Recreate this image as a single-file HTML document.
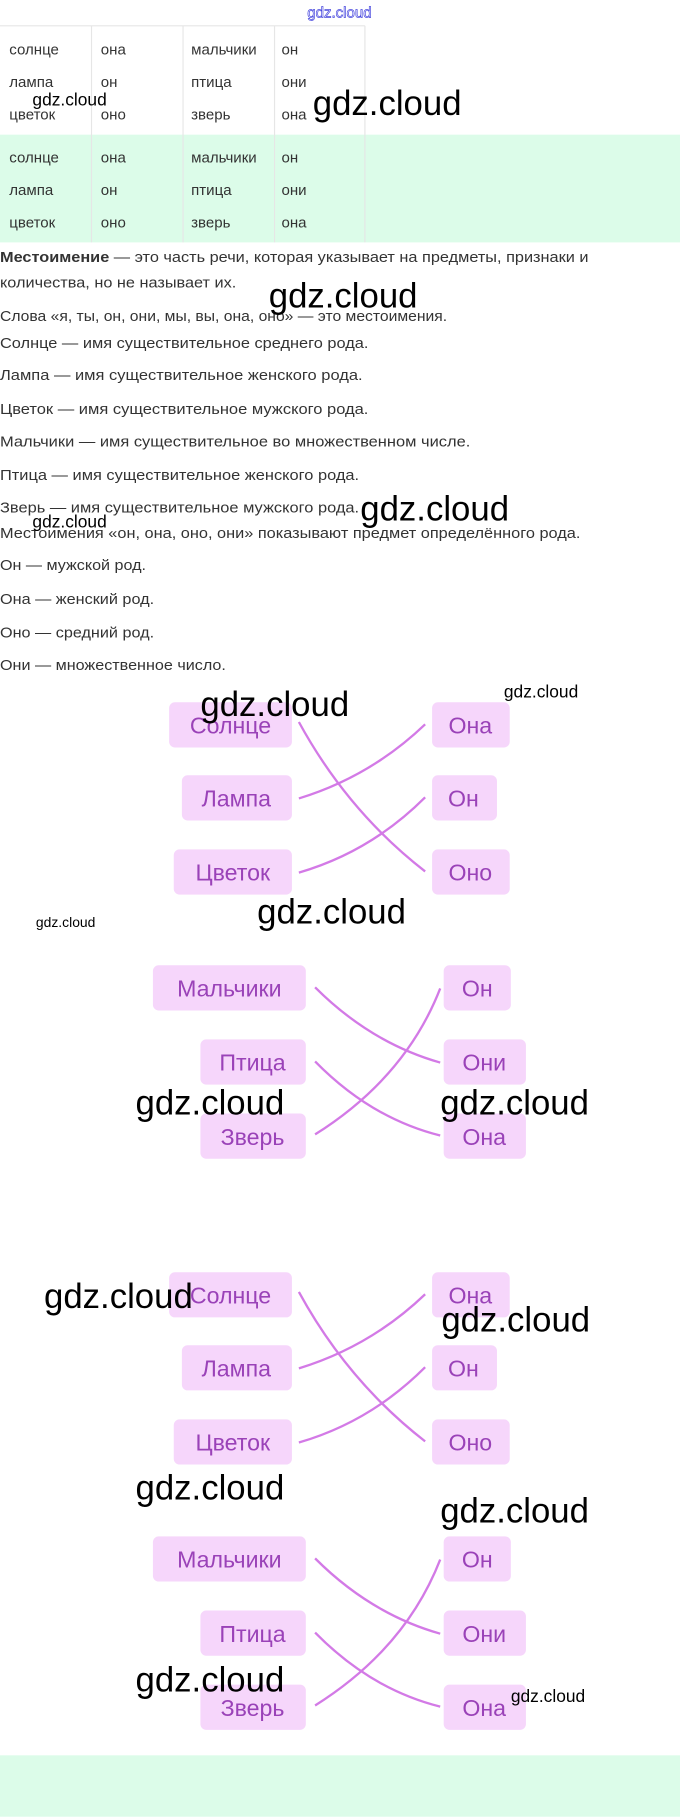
<!DOCTYPE html>
<html><head><meta charset="utf-8"><style>html,body{margin:0;padding:0;background:#fff}svg{display:block}</style></head>
<body>
<svg width="680" height="1817" viewBox="0 0 587 1568" xmlns="http://www.w3.org/2000/svg" font-family="Liberation Sans, sans-serif">
<rect x="0" y="0" width="587" height="1568" fill="#fff"/>
<text x="293" y="15" font-size="13" text-anchor="middle" fill="#fff" stroke="#4a4adf" stroke-width="0.6">gdz.cloud</text>
<!-- table -->
<rect x="0" y="116" width="587" height="93" fill="#dcfce9"/>
<g stroke="#e6e6e6" stroke-width="1">
<line x1="0" y1="22" x2="315" y2="22"/>
<line x1="79" y1="22" x2="79" y2="209"/><line x1="158" y1="22" x2="158" y2="209"/>
<line x1="237" y1="22" x2="237" y2="209"/><line x1="315" y1="22" x2="315" y2="209"/>
</g>
<g font-size="13" fill="#333">
<text x="8" y="47">солнце</text><text x="87" y="47">она</text><text x="165" y="47">мальчики</text><text x="243" y="47">он</text>
<text x="8" y="75">лампа</text><text x="87" y="75">он</text><text x="165" y="75">птица</text><text x="243" y="75">они</text>
<text x="8" y="103">цветок</text><text x="87" y="103">оно</text><text x="165" y="103">зверь</text><text x="243" y="103">она</text>
<text x="8" y="140">солнце</text><text x="87" y="140">она</text><text x="165" y="140">мальчики</text><text x="243" y="140">он</text>
<text x="8" y="168">лампа</text><text x="87" y="168">он</text><text x="165" y="168">птица</text><text x="243" y="168">они</text>
<text x="8" y="196">цветок</text><text x="87" y="196">оно</text><text x="165" y="196">зверь</text><text x="243" y="196">она</text>
</g>
<g font-size="13" fill="#333" lengthAdjust="spacingAndGlyphs">
<text x="0" y="226" textLength="508" lengthAdjust="spacingAndGlyphs"><tspan font-weight="bold">Местоимение</tspan> — это часть речи, которая указывает на предметы, признаки и</text>
<text x="0" y="248" textLength="204" lengthAdjust="spacingAndGlyphs">количества, но не называет их.</text>
<text x="0" y="277" textLength="386" lengthAdjust="spacingAndGlyphs">Слова «я, ты, он, они, мы, вы, она, оно» — это местоимения.</text>
<text x="0" y="300" textLength="318" lengthAdjust="spacingAndGlyphs">Солнце — имя существительное среднего рода.</text>
<text x="0" y="328" textLength="313" lengthAdjust="spacingAndGlyphs">Лампа — имя существительное женского рода.</text>
<text x="0" y="357" textLength="318" lengthAdjust="spacingAndGlyphs">Цветок — имя существительное мужского рода.</text>
<text x="0" y="385" textLength="406" lengthAdjust="spacingAndGlyphs">Мальчики — имя существительное во множественном числе.</text>
<text x="0" y="414" textLength="310" lengthAdjust="spacingAndGlyphs">Птица — имя существительное женского рода.</text>
<text x="0" y="442" textLength="310" lengthAdjust="spacingAndGlyphs">Зверь — имя существительное мужского рода.</text>
<text x="0" y="464" textLength="501" lengthAdjust="spacingAndGlyphs">Местоимения «он, она, оно, они» показывают предмет определённого рода.</text>
<text x="0" y="492" textLength="126" lengthAdjust="spacingAndGlyphs">Он — мужской род.</text>
<text x="0" y="521" textLength="133" lengthAdjust="spacingAndGlyphs">Она — женский род.</text>
<text x="0" y="550" textLength="133" lengthAdjust="spacingAndGlyphs">Оно — средний род.</text>
<text x="0" y="578" textLength="195" lengthAdjust="spacingAndGlyphs">Они — множественное число.</text>
</g>
<defs>
<g id="d1">
<g fill="#f6d6fb">
<rect x="146" y="606" width="106" height="39" rx="5"/><rect x="157" y="669" width="95" height="39" rx="5"/><rect x="150" y="733" width="102" height="39" rx="5"/>
<rect x="373" y="606" width="67" height="39" rx="5"/><rect x="373" y="669" width="56" height="39" rx="5"/><rect x="373" y="733" width="67" height="39" rx="5"/>
</g>
<g font-size="20" fill="#9a42b8" text-anchor="middle">
<text x="199" y="633">Солнце</text><text x="204" y="696">Лампа</text><text x="201" y="760">Цветок</text>
<text x="406" y="633">Она</text><text x="400" y="696">Он</text><text x="406" y="760">Оно</text>
</g>
<g fill="none" stroke="#d37ae6" stroke-width="2">
<path d="M258 623 Q300 700 367 752"/><path d="M258 689 Q320 670 367 625"/><path d="M258 753 Q320 735 367 688"/>
</g>
</g>
<g id="d2">
<g fill="#f6d6fb">
<rect x="132" y="833" width="132" height="39" rx="5"/><rect x="173" y="897" width="91" height="39" rx="5"/><rect x="173" y="961" width="91" height="39" rx="5"/>
<rect x="383" y="833" width="58" height="39" rx="5"/><rect x="383" y="897" width="71" height="39" rx="5"/><rect x="383" y="961" width="71" height="39" rx="5"/>
</g>
<g font-size="20" fill="#9a42b8" text-anchor="middle">
<text x="198" y="860">Мальчики</text><text x="218" y="924">Птица</text><text x="218" y="988">Зверь</text>
<text x="412" y="860">Он</text><text x="418" y="924">Они</text><text x="418" y="988">Она</text>
</g>
<g fill="none" stroke="#d37ae6" stroke-width="2">
<path d="M272 852 Q320 900 380 917"/><path d="M272 916 Q320 965 380 980"/><path d="M272 979 Q350 930 380 853"/>
</g>
</g>
</defs>
<use href="#d1"/><use href="#d2"/>
<use href="#d1" y="492"/><use href="#d2" y="493"/>
<rect x="0" y="1515" width="587" height="53" fill="#dcfce9"/>
<g fill="#000">
<text x="28" y="91" font-size="15">gdz.cloud</text>
<text x="270" y="99" font-size="30">gdz.cloud</text>
<text x="28" y="455" font-size="15">gdz.cloud</text>
<text x="232" y="265" font-size="30">gdz.cloud</text>
<text x="311" y="449" font-size="30">gdz.cloud</text>
<text x="435" y="602" font-size="15">gdz.cloud</text>
<text x="173" y="618" font-size="30">gdz.cloud</text>
<text x="222" y="797" font-size="30">gdz.cloud</text>
<text x="31" y="800" font-size="12">gdz.cloud</text>
<text x="117" y="962" font-size="30">gdz.cloud</text>
<text x="380" y="962" font-size="30">gdz.cloud</text>
<text x="38" y="1129" font-size="30">gdz.cloud</text>
<text x="381" y="1149" font-size="30">gdz.cloud</text>
<text x="117" y="1294" font-size="30">gdz.cloud</text>
<text x="380" y="1314" font-size="30">gdz.cloud</text>
<text x="117" y="1460" font-size="30">gdz.cloud</text>
<text x="441" y="1469" font-size="15">gdz.cloud</text>
</g>
</svg>
</body></html>
